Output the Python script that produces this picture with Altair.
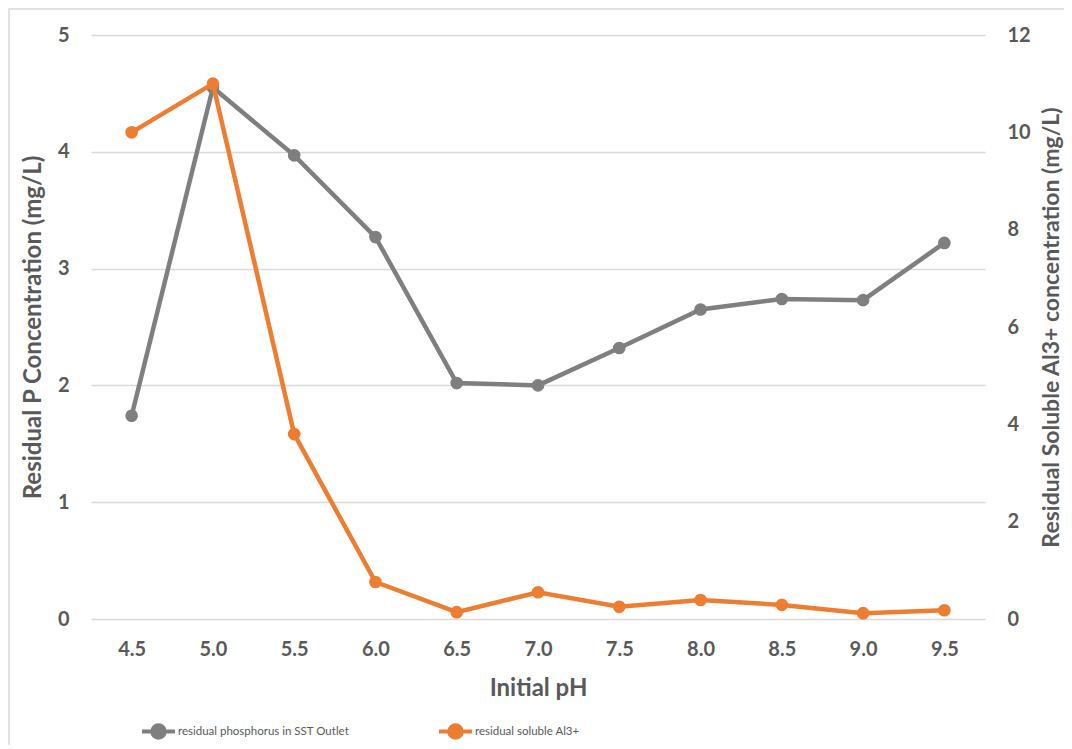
import altair as alt
import pandas as pd

ph = ["4.5", "5.0", "5.5", "6.0", "6.5", "7.0", "7.5", "8.0", "8.5", "9.0", "9.5"]
p_vals = [1.74, 4.55, 3.97, 3.27, 2.02, 2.00, 2.32, 2.65, 2.74, 2.73, 3.22]
al_vals = [10.0, 11.0, 3.80, 0.76, 0.14, 0.55, 0.25, 0.39, 0.29, 0.12, 0.18]
s1_name = "residual phosphorus in SST Outlet"
s2_name = "residual soluble Al3+"
p_ticks = [0, 1, 2, 3, 4, 5]
al_ticks = [0, 2, 4, 6, 8, 10, 12]

GRAY = "#7f7f7f"
ORANGE = "#ed7d31"
TXT = "#595959"
FONT = "Lato"
W, H = 894, 584
PAD = {"left": 83, "top": 27, "right": 79, "bottom": 126}

df = pd.DataFrame({"pH": ph, "P": p_vals, "Al": al_vals,
                   "s1": [s1_name] * len(ph), "s2": [s2_name] * len(ph)})

sym = "M-1,0H1M-0.38,0A0.38,0.38,0,1,1,0.38,0A0.38,0.38,0,1,1,-0.38,0Z"

x = alt.X("pH:O", sort=ph, scale=alt.Scale(type="point", padding=0.5),
          axis=alt.Axis(title="Initial pH", labelAngle=0, ticks=False, domain=False,
                        labelFont=FONT, labelFontSize=20, labelFontWeight="bold",
                        labelColor=TXT, labelPadding=20, titleFont=FONT,
                        titleFontSize=24, titleFontWeight="bold", titleColor=TXT,
                        titlePadding=17, grid=False))

def leg(color, lx):
    return alt.Legend(title=None, orient="none", legendX=lx, legendY=678,
                      symbolType=sym, symbolSize=1089, symbolStrokeWidth=4,
                      symbolFillColor=color, symbolStrokeColor=color,
                      labelFont=FONT, labelFontSize=11.5, labelColor=TXT,
                      labelOffset=1, labelLimit=0)

base = alt.Chart(df)

p_layer = base.mark_line(strokeWidth=4.5, point=alt.OverlayMarkDef(filled=True, size=160, opacity=1)).encode(
    x=x,
    y=alt.Y("P:Q", scale=alt.Scale(domain=[0, 5], nice=False),
            axis=alt.Axis(title="Residual P Concentration (mg/L)", values=p_ticks,
                          orient="left", ticks=False, domain=False, grid=True,
                          gridColor="#d9d9d9", gridWidth=1.3,
                          labelFont=FONT, labelFontSize=20, labelFontWeight="bold",
                          labelColor=TXT, labelPadding=22, titleFont=FONT,
                          titleFontSize=24, titleFontWeight="bold", titleColor=TXT,
                          titlePadding=12)),
    color=alt.Color("s1:N", scale=alt.Scale(domain=[s1_name], range=[GRAY]), legend=leg(GRAY, 49)),
)

al_layer = base.mark_line(strokeWidth=4.5, point=alt.OverlayMarkDef(filled=True, size=160, opacity=1)).encode(
    x=x,
    y=alt.Y("Al:Q", scale=alt.Scale(domain=[0, 12], nice=False),
            axis=alt.Axis(title="Residual Soluble Al3+ concentration (mg/L)", values=al_ticks,
                          orient="right", ticks=False, domain=False, grid=False,
                          labelFont=FONT, labelFontSize=20, labelFontWeight="bold",
                          labelColor=TXT, labelPadding=22, titleFont=FONT,
                          titleFontSize=23, titleFontWeight="bold", titleColor=TXT,
                          titleAngle=270, titleBaseline="top", titlePadding=10)),
    color=alt.Color("s2:N", scale=alt.Scale(domain=[s2_name], range=[ORANGE]), legend=leg(ORANGE, 346)),
)

frame = alt.Chart(pd.DataFrame({"f": [0]})).mark_rect(fill=None, stroke="#d9d9d9", strokeWidth=1.5).encode(
    x=alt.value(-PAD["left"] + 1),
    x2=alt.value(W + PAD["right"] + 20),
    y=alt.value(-PAD["top"] + 1),
    y2=alt.value(H + PAD["bottom"] + 20),
)

chart = alt.layer(frame, p_layer, al_layer).resolve_scale(
    y="independent", color="independent"
).properties(
    width=W, height=H, padding=PAD, autosize=alt.AutoSizeParams(type="none"),
    background="white"
).configure_view(stroke=None)

chart.save("out.html", embed_options={"renderer": "svg", "actions": False})
